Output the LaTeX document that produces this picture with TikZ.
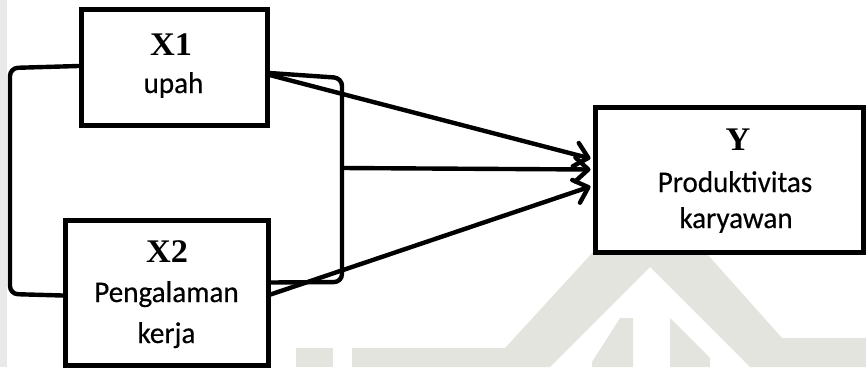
\documentclass[tikz,border=0pt]{standalone}
\usepackage{fontspec}
\usepackage{graphicx}
\setmainfont{Carlito}[FakeBold=0.4]
\newfontfamily\tnr{Liberation Serif}
\usetikzlibrary{arrows.meta,calc}
\definecolor{wm}{RGB}{227,228,221}
\definecolor{stripc}{RGB}{232,234,234}
\newcommand{\bodytxt}[1]{\scalebox{0.97}[1]{\fontsize{30}{33}\selectfont #1}}
\newcommand{\headtxt}[1]{\scalebox{1.04}[1]{\fontsize{33}{36}\selectfont\tnr\bfseries #1}}
\begin{document}
\begin{tikzpicture}[x=1pt,y=-1pt,
  box/.style={draw=black, fill=white, line width=5pt, inner sep=0pt, rectangle},
  lbl/.style={anchor=base, inner sep=0pt},
  link/.style={draw=black, line width=4.4pt, rounded corners=8pt, line cap=round},
  arr/.style={draw=black, line width=4.4pt, line cap=round, -{Straight Barb[length=13pt,width=24pt,line cap=round,line join=round]}}]
\useasboundingbox (0,0) rectangle (866,367);
% watermark
\fill[stripc] (0,0) rectangle (7,367);
\fill[wm] (352,348) -- (505,348) -- (650,190) -- (782,338) -- (866,338) -- (866,367) -- (750,367) -- (650,267) -- (550,367) -- (352,367) -- cycle;
\fill[wm] (296,348) rectangle (333,367);
\fill[wm] (592,362) -- (620,318) -- (633,318) -- (633,367) -- (592,367) -- cycle;
\fill[wm] (670,318) -- (710,358) -- (710,367) -- (670,367) -- cycle;
% boxes
\node[box, minimum width=186pt, minimum height=116pt] (x1) at (174,67) {};
\node[box, minimum width=203pt, minimum height=145pt] (x2) at (166.5,292.5) {};
\node[box, minimum width=268pt, minimum height=145pt] (y) at (729,179.5) {};
% labels
\node[lbl] (x1h) at (171,55) {\headtxt{X1}};
\node[lbl] (x1b) at (173.5,93) {\bodytxt{upah}};
\node[lbl] (x2h) at (167,262) {\headtxt{X2}};
\node[lbl] (x2b) at (166.5,302) {\bodytxt{Pengalaman}};
\node[lbl] (x2c) at (166.5,343) {\bodytxt{kerja}};
\node[lbl] (yh) at (738,150) {\headtxt{Y}};
\node[lbl] (yb) at (735,192) {\bodytxt{Produktivitas}};
\node[lbl] (yc) at (736,228) {\bodytxt{karyawan}};
% correlation brackets
\coordinate (lt) at (10,68);
\coordinate (lb) at (10,294);
\coordinate (rt) at (342,78);
\coordinate (rb) at (342,282);
\coordinate (rm) at (342,168);
\draw[link] ($(x1.west)+(0,-1)$) -- (lt) -- (lb) -- ($(x2.west)+(0,3)$);
\draw[link] ($(x1.east)+(0,6)$) -- (rt) -- (rb) -- ($(x2.east)+(0,-10)$);
% arrows
\draw[arr] ($(x1.east)+(0,8)$) -- ($(y.west)+(-2,-21)$);
\draw[arr] (rm) -- ($(y.west)+(-2,-10)$);
\draw[arr] ($(x2.east)+(0,2)$) -- ($(y.west)+(-2,7)$);
\end{tikzpicture}
\end{document}
